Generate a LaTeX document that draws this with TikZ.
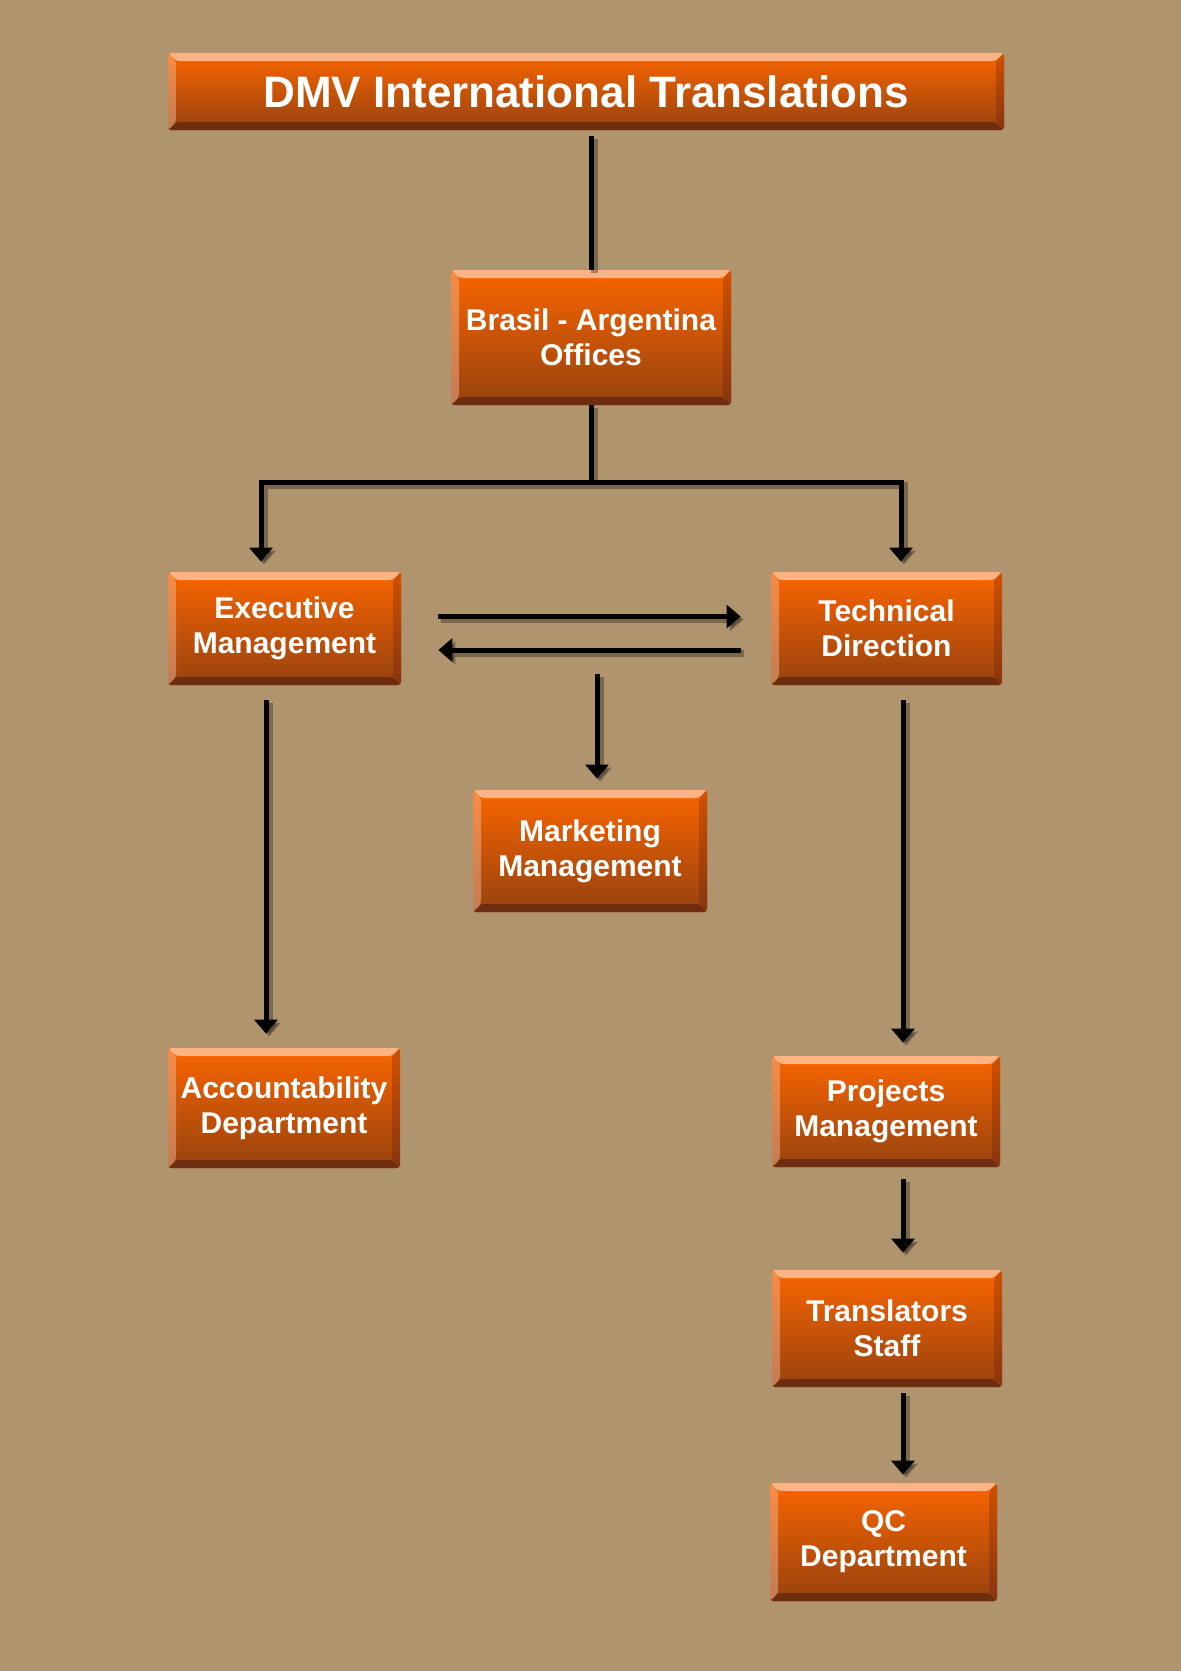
\documentclass[tikz,border=0pt]{standalone}
\usepackage{fontspec}
\setmainfont{Liberation Sans}
\usepackage{tikz}
\usetikzlibrary{calc}
\usetikzlibrary{arrows.meta}
\definecolor{bgtan}{RGB}{176,148,110}
\definecolor{boxtop}{RGB}{249,101,0}
\definecolor{boxbottom}{RGB}{151,66,15}
\definecolor{beveltop}{RGB}{255,179,131}
\definecolor{bevelbottom}{RGB}{110,45,14}
\definecolor{bevelleft}{RGB}{246,140,70}
\definecolor{bevelleftlow}{RGB}{194,124,85}
\definecolor{bevelright}{RGB}{208,80,0}
\definecolor{bevelrightlow}{RGB}{136,53,16}
\tikzset{
	bevel/.style={path picture={
		\fill[beveltop] (path picture bounding box.north west) -- (path picture bounding box.north east) -- ([shift={(-4pt,-4pt)}]path picture bounding box.north east) -- ([shift={(4pt,-4pt)}]path picture bounding box.north west) -- cycle;
		\fill[bevelbottom] (path picture bounding box.south west) -- (path picture bounding box.south east) -- ([shift={(-4pt,4pt)}]path picture bounding box.south east) -- ([shift={(4pt,4pt)}]path picture bounding box.south west) -- cycle;
		\shade[top color=bevelleft, bottom color=bevelleftlow] (path picture bounding box.north west) -- ([shift={(4pt,-4pt)}]path picture bounding box.north west) -- ([shift={(4pt,4pt)}]path picture bounding box.south west) -- (path picture bounding box.south west) -- cycle;
		\shade[top color=bevelright, bottom color=bevelrightlow] (path picture bounding box.north east) -- ([shift={(-4pt,-4pt)}]path picture bounding box.north east) -- ([shift={(-4pt,4pt)}]path picture bounding box.south east) -- (path picture bounding box.south east) -- cycle;
	}},
	boxstyle/.style={rectangle,rounded corners=1.5pt,top color=boxtop,bottom color=boxbottom,bevel,text=white,align=center,inner sep=0pt,font=\bfseries\fontsize{15}{17.5}\selectfont},
	titlestyle/.style={boxstyle,font=\bfseries\fontsize{22}{26}\selectfont},
	plain/.style={line width=2.5pt,black,preaction={draw=black,opacity=0.3,line width=3.5pt,transform canvas={shift={(1.5pt,-1.5pt)}}}},
	conn/.style={plain,-{Triangle[width=11.5pt,length=7pt]}}
}
\begin{document}
\begin{tikzpicture}[x=0.5pt,y=-0.5pt]
		\fill[bgtan] (0,0) rectangle (1181,1671);
		\useasboundingbox (0,0) rectangle (1181,1671);
		\node[titlestyle,minimum width=418pt,minimum height=38.5pt] (dmv) at (586,91.5) {DMV International Translations};
		\node[boxstyle,minimum width=140pt,minimum height=67.5pt] (brasil) at (591,337.5) {Brasil - Argentina\\Offices};
		\node[boxstyle,minimum width=116.5pt,minimum height=56.5pt] (exec) at (284.5,628.5) {Executive\\Management};
		\node[boxstyle,minimum width=115.5pt,minimum height=56.5pt] (tech) at (886.5,628.5) {Technical\\Direction};
		\node[boxstyle,minimum width=117pt,minimum height=61pt] (mkt) at (590,851) {Marketing\\Management};
		\node[boxstyle,minimum width=116pt,minimum height=60pt] (acct) at (284,1108) {Accountability\\Department};
		\node[boxstyle,minimum width=114pt,minimum height=55.5pt] (proj) at (886,1111.5) {Projects\\Management};
		\node[boxstyle,minimum width=115pt,minimum height=58.5pt] (trans) at (887,1328.5) {Translators\\Staff};
		\node[boxstyle,minimum width=113.5pt,minimum height=59pt] (qc) at (883.5,1542) {QC\\Department};
		\draw[plain] ([yshift=-3pt]dmv.south -| brasil.north) -- (brasil.north);
		\draw[plain] (brasil.south) -- ++(0,77) coordinate (split);
		\draw[conn] (split) -| ($(exec.north)+(-23.5,-10)$);
		\draw[conn] (split) -| ($(tech.north)+(14.5,-10)$);
		\draw[conn] ($(exec.east)+(37,-12)$) -- ($(tech.west)+(-30,-12)$);
		\draw[conn] ($(tech.west)+(-30,21.5)$) -- ($(exec.east)+(37,21.5)$);
		\draw[conn] ($(mkt.north)+(7,-116)$) -- ($(mkt.north)+(7,-11)$);
		\draw[conn] ($(exec.south)+(-18.5,15)$) -- ($(acct.north)+(-18,-14)$);
		\draw[conn] ($(tech.south)+(16.5,15)$) -- ($(proj.north)+(17,-13)$);
		\draw[conn] ($(proj.south)+(17,12)$) -- ($(trans.north)+(16,-17)$);
		\draw[conn] ($(trans.south)+(16,6)$) -- ($(qc.north)+(19.5,-8)$);
		\end{tikzpicture}
\end{document}
